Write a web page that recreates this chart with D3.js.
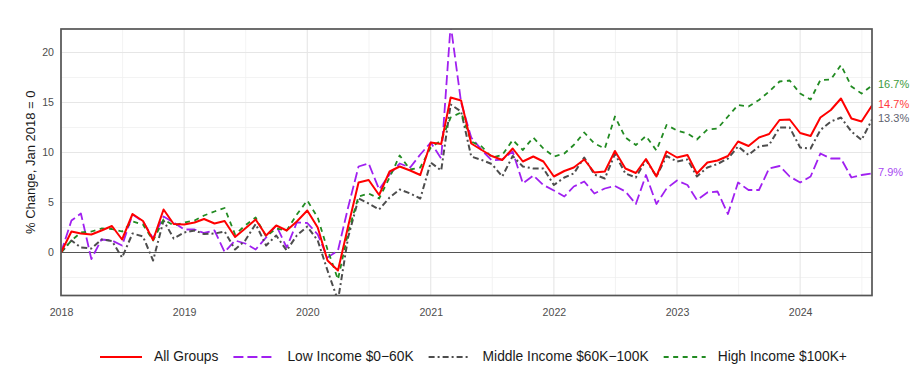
<!DOCTYPE html>
<html>
<head>
<meta charset="utf-8">
<script src="https://cdn.jsdelivr.net/npm/d3@7"></script>
<style>
  body { margin: 0; background: #fff; }
  svg { font-family: "Liberation Sans", Arial, sans-serif; }
</style>
</head>
<body>
<div id="chart"></div>
<script>
// monthly series, Jan 2018 .. Aug 2024 (80 months), % change vs Jan 2018
var allGroups = [0, 2.1, 1.9, 1.8, 2.2, 2.65, 1.3, 3.85, 3.15, 1.25, 4.3, 2.85,
  2.8, 3.0, 3.35, 2.9, 3.15, 1.55, 2.4, 3.3, 1.7, 2.7, 2.2, 3.1,
  4.2, 2.5, -0.8, -1.8, 2.6, 7.0, 7.25, 5.75, 8.1, 8.6, 8.2, 7.75,
  11.0, 10.85, 15.5, 15.2, 10.9, 10.25, 9.65, 9.25, 10.4, 9.1, 9.6, 9.1,
  7.6, 8.15, 8.5, 9.3, 8.0, 8.1, 10.15, 8.4, 7.95, 9.35, 7.6, 10.1,
  9.5, 9.75, 7.9, 9.0, 9.2, 9.65, 11.1, 10.65, 11.5, 11.85, 13.25, 13.3,
  11.95, 11.65, 13.5, 14.25, 15.4, 13.4, 13.1, 14.7];

var lowIncome = [0, 3.2, 3.9, -0.65, 1.3, 1.2, 0.7, 3.8, 3.1, 1.4, 3.6, 3.0,
  2.3, 2.3, 1.95, 2.2, 0.05, 1.2, 0.9, 0.3, 1.5, 2.7, 0.5, 3.0,
  2.95, 1.8, -0.5, 0.2, 4.5, 8.6, 8.9, 6.3, 7.8, 8.9, 8.5, 9.8,
  11.0, 9.4, 22.8, 15.0, 11.5, 10.25, 9.2, 9.3, 10.1, 6.9, 7.7, 6.75,
  6.2, 5.6, 6.6, 7.1, 5.9, 6.4, 6.65, 6.1, 4.85, 7.75, 4.85, 6.4,
  7.2, 6.75, 5.25, 6.0, 6.1, 3.85, 7.0, 6.25, 6.25, 8.4, 8.65, 7.6,
  7.0, 7.6, 9.9, 9.4, 9.4, 7.5, 7.75, 7.9];

var middleIncome = [0, 1.2, 0.5, 0.4, 1.3, 1.15, -0.5, 1.9, 1.6, -0.8, 3.2, 1.4,
  2.0, 2.2, 1.85, 1.9, 2.1, 0.3, 1.2, 2.85, 0.7, 1.7, 0.2, 1.7,
  2.6, 1.2, -1.8, -4.8, 1.5, 5.4, 4.9, 4.3, 5.5, 6.3, 5.9, 5.4,
  9.0, 8.2, 14.8, 14.1, 9.6, 9.25, 8.85, 7.6, 9.65, 8.6, 8.4, 8.4,
  6.75, 7.5, 7.9, 9.5, 7.8, 7.4, 9.85, 7.9, 7.5, 9.25, 7.6, 9.65,
  9.1, 9.3, 7.6, 8.5, 8.85, 9.4, 10.6, 9.75, 10.6, 10.75, 12.5, 12.5,
  10.5, 10.4, 12.25, 13.1, 13.5, 12.1, 11.25, 13.3];

var highIncome = [0, 1.2, 2.0, 2.1, 2.4, 2.35, 2.1, 3.1, 2.8, 1.2, 3.3, 2.7,
  3.0, 3.2, 3.7, 4.1, 4.45, 1.8, 2.7, 3.5, 1.6, 2.4, 2.2, 3.8,
  5.2, 3.5, 0.3, -2.7, 2.0, 5.6, 5.9, 5.4, 7.5, 9.7, 8.3, 8.5,
  10.5, 11.2, 13.5, 14.0, 11.1, 10.6, 9.5, 9.75, 11.25, 10.25, 11.5, 10.4,
  9.6, 9.9, 10.75, 12.0, 10.9, 10.4, 13.6, 11.5, 10.75, 11.65, 10.2, 12.75,
  12.2, 11.9, 11.3, 12.3, 12.4, 13.6, 14.75, 14.6, 15.25, 16.1, 17.1, 17.2,
  15.9, 15.3, 17.25, 17.3, 18.75, 16.6, 15.9, 16.7];

var seriesNames = ["All Groups", "Low Income $0\u221260K", "Middle Income $60K\u2212100K", "High Income $100K+"];
var yTicks = [0, 5, 10, 15, 20];
var yMinorTicks = [-2.5, 2.5, 7.5, 12.5, 17.5];
var xTickYears = [2018, 2019, 2020, 2021, 2022, 2023, 2024];

var width = 920, height = 369;
var margin = {top: 29, right: 48, bottom: 73.5, left: 61};

var months = d3.timeMonth.range(new Date(2018, 0, 1), new Date(2024, 8, 1));

var series = [
  {name: seriesNames[0], values: allGroups,    color: "#ff0000", dash: null,        lw: 2.0, label: "#ff3b3b"},
  {name: seriesNames[1], values: lowIncome,    color: "#a020f0", dash: "10,4",      lw: 1.8, label: "#a84af2"},
  {name: seriesNames[2], values: middleIncome, color: "#4d4d4d", dash: "6,3,2,3",   lw: 2.0, label: "#5f6370"},
  {name: seriesNames[3], values: highIncome,   color: "#228b22", dash: "5,4.5",     lw: 1.8, label: "#3d9a3d"}
];

var svg = d3.select("#chart")
  .append("svg")
  .attr("width", width)
  .attr("height", height);

var x = d3.scaleTime()
  .domain([months[0], months[months.length - 1]])
  .range([margin.left, width - margin.right]);

var y = d3.scaleLinear()
  .domain([-4.3, 22.35])
  .range([height - margin.bottom, margin.top]);

var x0 = x.range()[0], x1 = x.range()[1];
var y0 = y.range()[1], y1 = y.range()[0];

// grid
var yearDates = xTickYears.map(function(yr){ return new Date(yr, 0, 1); });
var minorX = [];
for (var i = 0; i < yearDates.length; i++) {
  var a = yearDates[i], b = new Date(xTickYears[i] + 1, 0, 1);
  minorX.push(new Date((a.getTime() + b.getTime()) / 2));
}
minorX = minorX.filter(function(d){ return d <= months[months.length - 1]; });

var grid = svg.append("g");
grid.selectAll(".ymin").data(yMinorTicks).enter().append("line")
  .attr("x1", x0).attr("x2", x1)
  .attr("y1", function(d){ return y(d); }).attr("y2", function(d){ return y(d); })
  .style("stroke", "#f0f0f0").style("stroke-width", 0.8);
grid.selectAll(".xmin").data(minorX).enter().append("line")
  .attr("y1", y0).attr("y2", y1)
  .attr("x1", function(d){ return x(d); }).attr("x2", function(d){ return x(d); })
  .style("stroke", "#f0f0f0").style("stroke-width", 0.8);
grid.selectAll(".ymaj").data(yTicks).enter().append("line")
  .attr("x1", x0).attr("x2", x1)
  .attr("y1", function(d){ return y(d); }).attr("y2", function(d){ return y(d); })
  .style("stroke", "#e6e6e6").style("stroke-width", 1.1);
grid.selectAll(".xmaj").data(yearDates).enter().append("line")
  .attr("y1", y0).attr("y2", y1)
  .attr("x1", function(d){ return x(d); }).attr("x2", function(d){ return x(d); })
  .style("stroke", "#e6e6e6").style("stroke-width", 1.1);

// zero line
svg.append("line")
  .attr("x1", x0).attr("x2", x1)
  .attr("y1", y(0)).attr("y2", y(0))
  .style("stroke", "#555").style("stroke-width", 1.1);

// lines, clipped to the panel
svg.append("clipPath").attr("id", "panel")
  .append("rect")
  .attr("x", x0).attr("y", y0)
  .attr("width", x1 - x0).attr("height", y1 - y0);

var line = d3.line()
  .x(function(d, i){ return x(months[i]); })
  .y(function(d){ return y(d); });

var drawOrder = [1, 2, 3, 0];
var lines = svg.append("g").attr("clip-path", "url(#panel)");
drawOrder.forEach(function(k){
  var s = series[k];
  lines.append("path")
    .datum(s.values)
    .attr("d", line)
    .style("fill", "none")
    .style("stroke", s.color)
    .style("stroke-width", s.lw)
    .style("stroke-dasharray", s.dash)
    .style("stroke-linejoin", "round");
});

// panel border
svg.append("rect")
  .attr("x", x0).attr("y", y0)
  .attr("width", x1 - x0).attr("height", y1 - y0)
  .style("fill", "none")
  .style("stroke", "#555")
  .style("stroke-width", 1.7);

// axes
var yAxis = d3.axisLeft(y).tickValues(yTicks).tickSize(0).tickPadding(7);
svg.append("g")
  .attr("transform", "translate(" + x0 + ",0)")
  .call(yAxis)
  .call(function(g){ g.select(".domain").remove(); })
  .selectAll("text")
  .style("font-size", "10.6px")
  .style("fill", "#4d4d4d");

var xAxis = d3.axisBottom(x).tickValues(yearDates).tickFormat(d3.timeFormat("%Y")).tickSize(0).tickPadding(13);
svg.append("g")
  .attr("transform", "translate(0," + y1 + ")")
  .call(xAxis)
  .call(function(g){ g.select(".domain").remove(); })
  .selectAll("text")
  .style("font-size", "10.6px")
  .style("fill", "#4d4d4d");

svg.append("text")
  .attr("transform", "translate(32," + ((y0 + y1) / 2) + ") rotate(-90)")
  .attr("text-anchor", "middle")
  .attr("dominant-baseline", "middle")
  .style("font-size", "13px")
  .style("fill", "#1a1a1a")
  .text("% Change, Jan 2018 = 0");

// end labels
series.forEach(function(s){
  var last = s.values[s.values.length - 1];
  svg.append("text")
    .attr("x", x1 + 6)
    .attr("y", y(last))
    .attr("dominant-baseline", "middle")
    .style("font-size", "11px")
    .style("fill", s.label)
    .text(d3.format(".1f")(last) + "%");
});

// legend
var legend = svg.append("g").attr("transform", "translate(0,357)");
var lx = 100;
series.forEach(function(s){
  legend.append("line")
    .attr("x1", lx).attr("x2", lx + 42)
    .attr("y1", 0).attr("y2", 0)
    .style("stroke", s.color)
    .style("stroke-width", s.lw)
    .style("stroke-dasharray", s.dash);
  var t = legend.append("text")
    .attr("x", lx + 54)
    .attr("y", 0)
    .attr("dominant-baseline", "middle")
    .style("font-size", "13.8px")
    .style("fill", "#1a1a1a")
    .text(s.name);
  lx = lx + 54 + t.node().getComputedTextLength() + 15;
});
</script>
</body>
</html>
